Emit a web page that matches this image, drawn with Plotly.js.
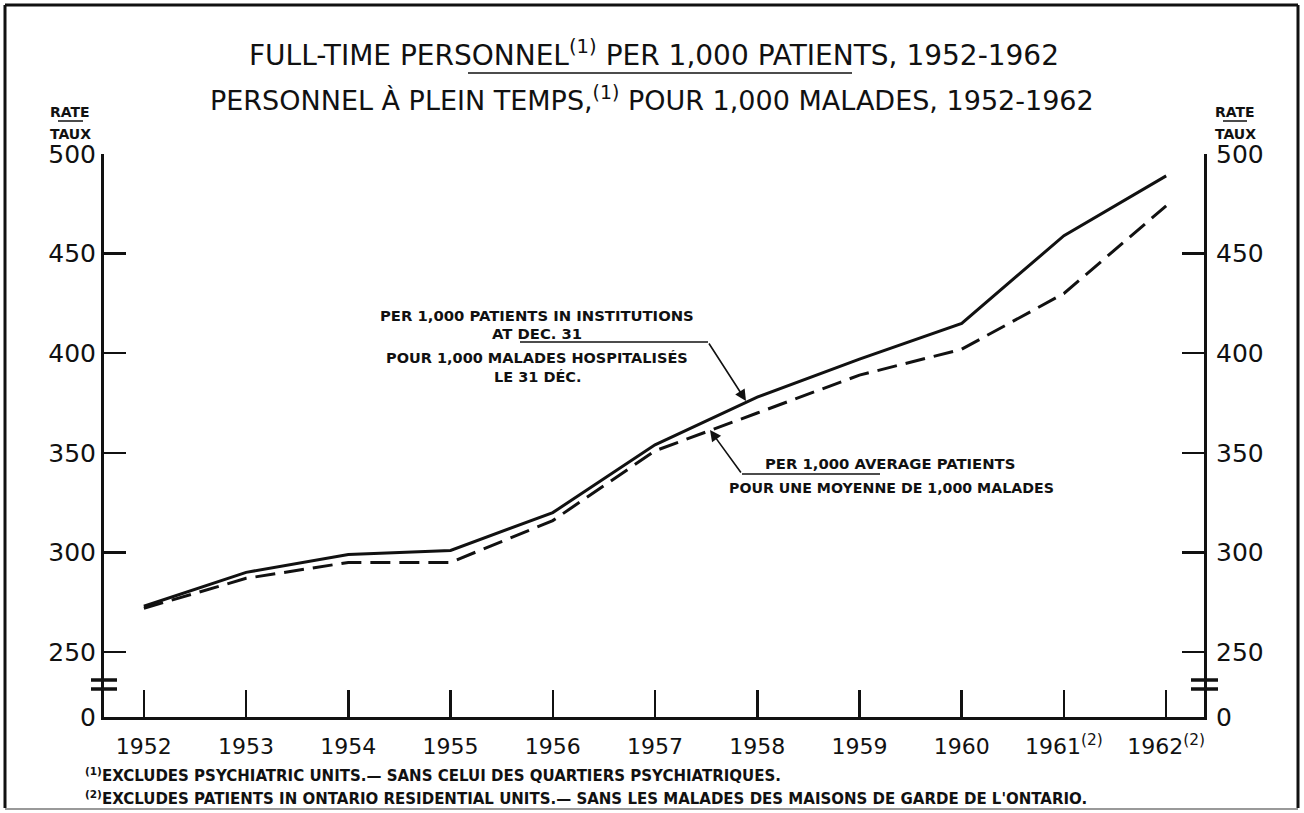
<!DOCTYPE html>
<html><head><meta charset="utf-8">
<script src="https://cdn.plot.ly/plotly-3.0.1.min.js"></script>
<style>html,body{margin:0;padding:0;background:#fff}#chart{width:1304px;height:813px}</style>
</head><body><div id="chart"></div>
<script>
// ---- data ----
const years = [1952,1953,1954,1955,1956,1957,1958,1959,1960,1961,1962];
const yearLabels = ["1952","1953","1954","1955","1956","1957","1958","1959","1960","1961<sup>(2)</sup>","1962<sup>(2)</sup>"];
const perInstitutions = [273,290,299,301,320,354,378,397,415,459,489];
const perAverage = [272,287,295,295,316,351,370,389,402,430,474];
const yTickVals = [217.4,250,300,350,400,450,500];
const yTickText = ["0","250","300","350","400","450","500"];

// ---- geometry helpers (pixel -> paper) ----
const L=104, R=1204, T=154, B=717;
const W=1304, H=813;
const px = x => (x-L)/(R-L);
const py = y => (B-y)/(B-T);

const FONT = "DejaVu Sans, sans-serif";
const ink = "#111";

function seg(x0,y0,x1,y1,w,c){return {type:'line',xref:'paper',yref:'paper',x0:px(x0),y0:py(y0),x1:px(x1),y1:py(y1),line:{color:c||ink,width:w}};}
function txt(t,x,y,size,bold,anchor){return {text:bold?'<b>'+t+'</b>':t,xref:'paper',yref:'paper',x:px(x),y:py(y),xanchor:anchor||'center',yanchor:'middle',showarrow:false,font:{family:FONT,size:size,color:ink}};}

const traces = [
  {x:years,y:perInstitutions,type:'scatter',mode:'lines',line:{color:ink,width:3},hoverinfo:'skip',name:'inst'},
  {x:years,y:perAverage,type:'scatter',mode:'lines',line:{color:ink,width:3,dash:'20px,9px'},hoverinfo:'skip',name:'avg'},
  {x:years,y:perAverage,type:'scatter',mode:'lines',yaxis:'y2',line:{color:'rgba(0,0,0,0)',width:0},hoverinfo:'skip',showlegend:false}
];

const yCommon = {
  range:[217.4,500], tickvals:yTickVals, ticktext:yTickText,
  ticks:'inside', ticklen:22, tickwidth:2.5, tickcolor:ink,
  showline:true, linewidth:3, linecolor:ink, showgrid:false, zeroline:false,
  tickfont:{family:FONT,size:25,color:ink}, fixedrange:true
};

const layout = {
  width:W,height:H,
  margin:{l:L,r:W-R,t:T,b:H-B},
  paper_bgcolor:'#fff',plot_bgcolor:'#fff',
  showlegend:false,
  title:{text:'FULL-TIME PERSONNEL<sup>(1)</sup> PER 1,000 PATIENTS, 1952-1962',
         x:654/W, xanchor:'center', xref:'container', y:1-55/H, yref:'container', yanchor:'middle',
         font:{family:FONT,size:28,color:ink}},
  xaxis:{range:[1951.61,1962.37],tickvals:years,ticktext:yearLabels,
         ticks:'inside',ticklen:27,tickwidth:2.5,tickcolor:ink,
         showline:true,linewidth:3,linecolor:ink,showgrid:false,zeroline:false,
         tickfont:{family:FONT,size:22,color:ink},ticklabelstandoff:8,fixedrange:true},
  yaxis:Object.assign({},yCommon,{side:'left',ticklabelstandoff:0}),
  yaxis2:Object.assign({},yCommon,{side:'right',overlaying:'y',ticklabelstandoff:4}),
  shapes:[
    // frame
    seg(5,5,1298,5,3), seg(5,5,5,808,3), seg(1298,5,1298,808,3), seg(5,809,1298,809,2,'#999'),
    // title underline
    seg(468,73,852,73,1.5),
    // RATE/TAUX underlines
    seg(58,121,83,121,1.5), seg(1223,121,1247,121,1.5),
    // axis breaks
    seg(91,680,117,680,3.5), seg(91,689,117,689,3.5),
    seg(1191,680,1218,680,3.5), seg(1191,689,1218,689,3.5),
    // leader lines
    seg(520,342,708,342,1.5), seg(742,474,880,474,1.5)
  ],
  annotations:[
    txt('PERSONNEL À PLEIN TEMPS,<sup>(1)</sup> POUR 1,000 MALADES, 1952-1962',652,98,27,false),
    txt('RATE',70,112,14,true), txt('TAUX',70,134,14,true),
    txt('RATE',1235,112,14,true), txt('TAUX',1235,134,14,true),
    txt('PER 1,000 PATIENTS IN INSTITUTIONS',537,315,14.8,true),
    txt('AT DEC. 31',537,333,14.8,true),
    txt('POUR 1,000 MALADES HOSPITALISÉS',537,358,14.5,true),
    txt('LE 31 DÉC.',538,377,14.5,true),
    txt('PER 1,000 AVERAGE PATIENTS',890,463,14.8,true),
    txt('POUR UNE MOYENNE DE 1,000 MALADES',891,488,14.2,true),
    txt('<sup>(1)</sup>EXCLUDES PSYCHIATRIC UNITS.— SANS CELUI DES QUARTIERS PSYCHIATRIQUES.',83,775,15,true,'left'),
    txt('<sup>(2)</sup>EXCLUDES PATIENTS IN ONTARIO RESIDENTIAL UNITS.— SANS LES MALADES DES MAISONS DE GARDE DE L\'ONTARIO.',83,798,15,true,'left'),
    // arrows
    {xref:'paper',yref:'paper',x:px(746),y:py(401),ax:708-746,ay:342-401,axref:'pixel',ayref:'pixel',
     showarrow:true,arrowhead:2,arrowsize:1.4,arrowwidth:1.6,arrowcolor:ink,text:''},
    {xref:'paper',yref:'paper',x:px(710),y:py(430),ax:742-710,ay:474-430,axref:'pixel',ayref:'pixel',
     showarrow:true,arrowhead:2,arrowsize:1.4,arrowwidth:1.6,arrowcolor:ink,text:''}
  ]
};

Plotly.newPlot('chart',traces,layout,{displayModeBar:false,staticPlot:true});
</script></body></html>
